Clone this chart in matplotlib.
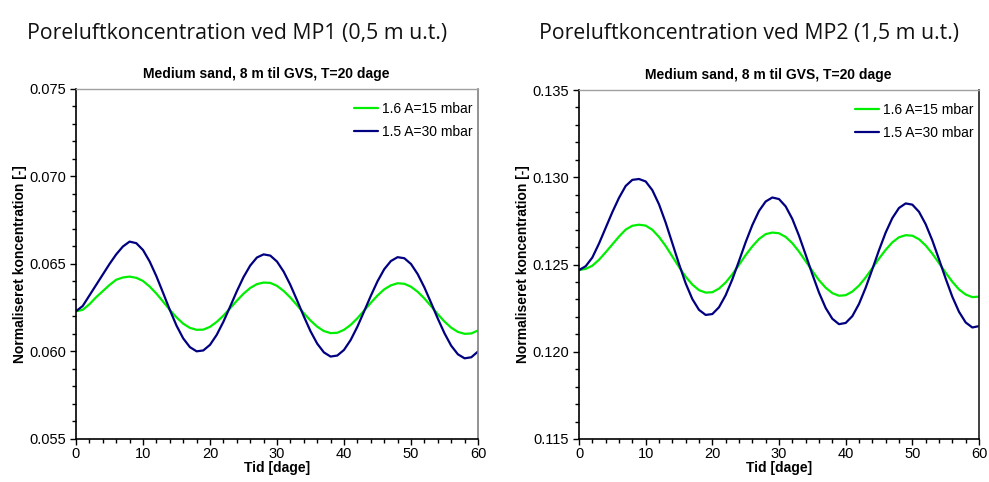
import matplotlib
matplotlib.use("Agg")
import matplotlib.pyplot as plt
from matplotlib.ticker import MultipleLocator, FormatStrFormatter

# ---------------- data ----------------
days = list(range(0, 61))

mp1_a15 = [0.06230, 0.06238, 0.06270, 0.06310, 0.06345, 0.06380, 0.06410, 0.06423, 0.06428, 0.06421,
           0.06403, 0.06371, 0.06331, 0.06285, 0.06238, 0.06195, 0.06159, 0.06135, 0.06124, 0.06125,
           0.06141, 0.06169, 0.06205, 0.06247, 0.06290, 0.06330, 0.06363, 0.06385, 0.06394, 0.06392,
           0.06375, 0.06346, 0.06308, 0.06264, 0.06219, 0.06177, 0.06142, 0.06117, 0.06105, 0.06107,
           0.06124, 0.06152, 0.06190, 0.06234, 0.06278, 0.06320, 0.06355, 0.06378, 0.06390, 0.06387,
           0.06370, 0.06341, 0.06303, 0.06259, 0.06213, 0.06171, 0.06136, 0.06112, 0.06101, 0.06103,
           0.06120]
mp1_a30 = [0.06230, 0.06260, 0.06320, 0.06380, 0.06440, 0.06500, 0.06555, 0.06600, 0.06628, 0.06619,
           0.06580, 0.06514, 0.06430, 0.06335, 0.06238, 0.06148, 0.06075, 0.06025, 0.06001, 0.06006,
           0.06038, 0.06095, 0.06170, 0.06256, 0.06344, 0.06425, 0.06491, 0.06537, 0.06555, 0.06548,
           0.06514, 0.06456, 0.06380, 0.06292, 0.06201, 0.06116, 0.06045, 0.05995, 0.05971, 0.05977,
           0.06009, 0.06066, 0.06142, 0.06229, 0.06318, 0.06401, 0.06470, 0.06517, 0.06539, 0.06533,
           0.06500, 0.06442, 0.06366, 0.06278, 0.06188, 0.06104, 0.06033, 0.05984, 0.05961, 0.05967,
           0.06000]
mp2_a15 = [0.12468, 0.12475, 0.12493, 0.12527, 0.12570, 0.12615, 0.12660, 0.12700, 0.12722, 0.12728,
           0.12723, 0.12699, 0.12658, 0.12606, 0.12546, 0.12486, 0.12430, 0.12385, 0.12353, 0.12339,
           0.12341, 0.12362, 0.12397, 0.12444, 0.12498, 0.12554, 0.12604, 0.12646, 0.12674, 0.12683,
           0.12679, 0.12658, 0.12622, 0.12574, 0.12519, 0.12463, 0.12410, 0.12367, 0.12336, 0.12321,
           0.12324, 0.12345, 0.12379, 0.12426, 0.12479, 0.12534, 0.12584, 0.12627, 0.12656, 0.12668,
           0.12665, 0.12645, 0.12609, 0.12562, 0.12508, 0.12453, 0.12401, 0.12357, 0.12328, 0.12313,
           0.12316]
mp2_a30 = [0.12468, 0.12490, 0.12540, 0.12620, 0.12710, 0.12800, 0.12882, 0.12950, 0.12985, 0.12990,
           0.12976, 0.12926, 0.12845, 0.12740, 0.12622, 0.12503, 0.12392, 0.12302, 0.12240, 0.12211,
           0.12216, 0.12255, 0.12324, 0.12415, 0.12520, 0.12628, 0.12726, 0.12807, 0.12861, 0.12884,
           0.12875, 0.12833, 0.12761, 0.12665, 0.12556, 0.12444, 0.12339, 0.12251, 0.12189, 0.12158,
           0.12165, 0.12204, 0.12274, 0.12367, 0.12473, 0.12582, 0.12683, 0.12766, 0.12824, 0.12850,
           0.12843, 0.12802, 0.12731, 0.12638, 0.12530, 0.12419, 0.12315, 0.12229, 0.12168, 0.12139,
           0.12147]

series_labels = ["1.6 A=15 mbar", "1.5 A=30 mbar"]
series_colors = ["#00EE00", "#000080"]
page_titles = ["Poreluftkoncentration ved MP1 (0,5 m u.t.)",
               "Poreluftkoncentration ved MP2 (1,5 m u.t.)"]
chart_title = "Medium sand, 8 m til GVS, T=20 dage"
xlabel = "Tid [dage]"
ylabel = "Normaliseret koncentration [-]"
ylims = [(0.055, 0.075), (0.115, 0.135)]

# ---------------- figure ----------------
W, H = 989, 482
fig = plt.figure(figsize=(W / 100, H / 100), dpi=100)
plt.rcParams['font.family'] = ['Liberation Sans', 'DejaVu Sans']

rects = [(76, 89, 478, 439), (579, 90, 979, 439)]
title_centers = [237, 749]
data = [(mp1_a15, mp1_a30), (mp2_a15, mp2_a30)]
right_spine_colors = ["#808080", "#202020"]

for i in range(2):
    x0, y0, x1, y1 = rects[i]
    ax = fig.add_axes([x0 / W, 1 - y1 / H, (x1 - x0) / W, (y1 - y0) / H])
    for vals, lab, col in zip(data[i], series_labels, series_colors):
        ax.plot(days, vals, color=col, lw=1.6, label=lab,
                solid_joinstyle='round', solid_capstyle='round')
    ax.set_xlim(0, 60)
    ax.set_ylim(*ylims[i])
    ax.xaxis.set_major_locator(MultipleLocator(10))
    ax.xaxis.set_minor_locator(MultipleLocator(2))
    ax.yaxis.set_major_locator(MultipleLocator(0.005))
    ax.yaxis.set_minor_locator(MultipleLocator(0.001))
    ax.yaxis.set_major_formatter(FormatStrFormatter('%.3f'))
    ax.tick_params(which='major', direction='out', length=4, width=1, labelsize=10.5,
                   colors='black', pad=3)
    ax.tick_params(which='minor', direction='out', length=3, width=1, colors='black')
    ax.tick_params(axis='x', pad=1.5)
    for s in ['left', 'bottom']:
        ax.spines[s].set_color('black')
        ax.spines[s].set_linewidth(1.2)
    ax.spines['top'].set_color('#a0a0a0')
    ax.spines['top'].set_linewidth(1.0)
    ax.spines['right'].set_color(right_spine_colors[i])
    ax.spines['right'].set_linewidth(1.2)
    t = ax.set_title(chart_title, fontsize=10, fontweight='bold', pad=8)
    t.set_x(0.5 - 11 / (x1 - x0))
    ax.set_xlabel(xlabel, fontsize=10, fontweight='bold', labelpad=0)
    ax.set_ylabel(ylabel, fontsize=10, fontweight='bold', labelpad=2)
    ax.legend(loc='upper right', frameon=False, fontsize=10, handlelength=1.7,
              handletextpad=0.3, labelspacing=0.65, borderaxespad=0.0, borderpad=0.4,
              bbox_to_anchor=(1.0, 0.98))
    fig.text(title_centers[i] / W, 1 - 33 / H, page_titles[i], ha='center', va='center',
             fontsize=15.3, family=['Open Sans', 'DejaVu Sans'], color='#111111')

fig.savefig("out.png", dpi=100)
